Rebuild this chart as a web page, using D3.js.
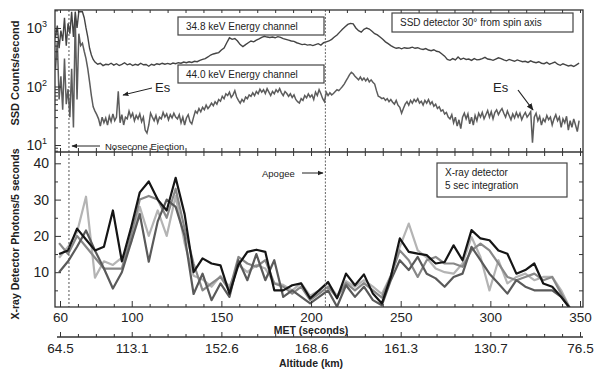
<!DOCTYPE html>
<html><head><meta charset="utf-8">
<script src="https://cdn.jsdelivr.net/npm/d3@7"></script>
<style>body{margin:0;background:#fff}svg{display:block}text{font-family:Arial,"Liberation Sans",sans-serif;fill:#222}</style>
</head><body><svg id="c" width="594" height="369"></svg>
<script>
// ---------- data ----------
const metTicks = [60,100,150,200,250,300,350];
const altitudeLabels = ["64.5","113.1","152.6","168.6","161.3","130.7","76.5"];
const ssdTicks = [10,100,1000];
const ssdExp = ["1","2","3"];
const xrayTicks = [10,20,30,40];
const noseconeMET = 65;
const apogeeMET = 208;

// SSD 34.8 keV channel [MET s, counts/s]
const ch348 = [[57.5,700],[58.5,1100],[59.5,450],[60.5,900],[61.5,600],[62.5,1500],[63.5,500],[64.5,1200],[65.5,800],[66.5,1900],[67.5,700],[68.5,1900],[69.5,1000],[70.5,1900],[71.5,1900],[72.5,1900],[73.5,1500],[74.5,1000],[75.5,700],[76.5,450],[77.5,345],[78.5,290],[79.5,262],
[81,240],[82.5,250],[84,228],[85.5,240],[87,235],[88.5,250],[90,232],[91.5,245],[93,228],[94.5,240],[96,255],[97.5,235],[99,245],[100.5,228],[102,240],[103.5,232],[105,250],[106.5,235],[108,238],[109.5,222],[111,240],[112.5,232],[114,245],[115.5,238],[117,250],[118.5,240],[120,248],[121.5,240],[123,252],[124.5,245],[126,255],[127.5,250],[129,262],[130.5,255],[132,265],[133.5,258],[135,270],[136.5,265],[138,280],[139.5,290],[141,300],[142.5,320],[144,345],[145.5,360],[147,370],[148.5,380],[150,420],[151.5,455],[153,560],[154.5,680],[156,640],[157.5,660],[159,600],[160.5,520],[162,480],[163.5,520],[165,560],[166.5,600],[168,580],[169.5,620],[171,650],[172.5,690],[174,720],[175.5,700],[177,690],[178.5,700],[180,680],[181.5,710],[183,690],[184.5,660],[186,640],[187.5,620],[189,600],[190.5,590],[192,560],[193.5,540],[195,520],[196.5,530],[198,510],[199.5,520],[201,500],[202.5,520],[204,540],[205.5,510],[207,560],[208.5,580],[210,600],[211.5,640],[213,700],[214.5,760],[216,850],[217.5,950],[219,1050],[220.5,1150],[222,1200],[223.5,1180],[225,1000],[226.5,900],[228,850],[229.5,950],[231,1000],[232.5,960],[234,880],[235.5,800],[237,760],[238.5,700],[240,640],[241.5,580],[243,540],[244.5,500],[246,470],[247.5,450],[249,460],[250.5,440],[252,460],[253.5,450],[255,455],[256.5,470],[258,450],[259.5,460],[261,440],[262.5,430],[264,445],[265.5,420],[267,410],[268.5,425],[270,400],[271.5,390],[273,360],[274.5,330],[276,290],[277.5,280],[279,300],[280.5,285],[282,320],[283.5,290],[285,305],[286.5,290],[288,295],[289.5,280],[291,300],[292.5,285],[294,290],[295.5,300],[297,315],[298.5,295],[300,290],[301.5,280],[303,295],[304.5,310],[306,300],[307.5,285],[309,275],[310.5,290],[312,280],[313.5,270],[315,285],[316.5,275],[318,265],[319.5,270],[321,258],[322.5,275],[324,262],[325.5,255],[327,265],[328.5,250],[330,245],[331.5,258],[333,240],[334.5,250],[336,262],[337.5,240],[339,230],[340.5,245],[342,235],[343.5,225],[345,230],[346.5,220],[348,235],[349.5,250]];

// SSD 44.0 keV channel [MET s, counts/s]
const ch440 = [[57.5,200],[58.5,600],[59.5,60],[60.5,150],[61.5,40],[62.5,300],[63.5,50],[64.5,90],[65.5,30],[66.5,200],[67.5,20],[68.5,1500],[69.5,60],[70.5,800],[71.5,500],[72.5,550],[73.5,400],[74.5,300],[75.5,200],[76.5,120],[77.5,70],[78.5,45],[79.5,38],[80.5,33],[81.5,28],[82.5,21],[83.5,30],[84.5,24],[85.5,29],[86.5,22],[87.5,31],[88.5,25],[89.5,34],[90.5,26],[91.5,30],[92.5,83],[93.5,24],[94.5,33],[95.5,22],[96.5,30],[97.5,28],[98.5,38],[99.5,30],[100.5,35],[101.5,26],[102.5,32],[103.5,28],[104.5,34],[105.5,25],[106.5,30],[107.5,18],[108.5,16],[109.5,22],[110.5,35],[111.5,30],[112.5,26],[113.5,32],[114.5,24],[115.5,30],[116.5,28],[117.5,36],[118.5,30],[119.5,34],[120.5,27],[121.5,33],[122.5,29],[123.5,35],[124.5,30],[125.5,28],[126.5,33],[127.5,24],[128.5,30],[129.5,22],[130.5,29],[131.5,33],[132.5,25],[133.5,23],[134.5,30],[135.5,38],[136.5,35],[137.5,42],[138.5,37],[139.5,44],[140.5,40],[141.5,48],[142.5,42],[143.5,46],[144.5,52],[145.5,47],[146.5,55],[147.5,50],[148.5,60],[149.5,56],[150.5,68],[151.5,62],[152.5,75],[153.5,70],[154.5,80],[155.5,65],[156.5,72],[157.5,85],[158.5,66],[159.5,58],[160.5,52],[161.5,60],[162.5,55],[163.5,66],[164.5,62],[165.5,72],[166.5,68],[167.5,78],[168.5,70],[169.5,82],[170.5,75],[171.5,90],[172.5,80],[173.5,88],[174.5,76],[175.5,92],[176.5,80],[177.5,70],[178.5,82],[179.5,75],[180.5,88],[181.5,80],[182.5,92],[183.5,78],[184.5,70],[185.5,82],[186.5,76],[187.5,68],[188.5,75],[189.5,65],[190.5,72],[191.5,60],[192.5,55],[193.5,52],[194.5,62],[195.5,58],[196.5,70],[197.5,64],[198.5,75],[199.5,66],[200.5,72],[201.5,60],[202.5,80],[203.5,70],[204.5,88],[205.5,75],[206.5,62],[207.5,55],[208.5,80],[209.5,70],[210.5,78],[211.5,72],[212.5,76],[213.5,82],[214.5,88],[215.5,85],[216.5,92],[217.5,100],[218.5,110],[219.5,125],[220.5,140],[221.5,160],[222.5,175],[223.5,165],[224.5,150],[225.5,140],[226.5,130],[227.5,145],[228.5,128],[229.5,140],[230.5,125],[231.5,138],[232.5,120],[233.5,130],[234.5,118],[235.5,110],[236.5,85],[237.5,68],[238.5,66],[239.5,62],[240.5,64],[241.5,58],[242.5,62],[243.5,55],[244.5,60],[245.5,54],[246.5,50],[247.5,58],[248.5,48],[249.5,44],[250.5,35],[251.5,42],[252.5,50],[253.5,55],[254.5,48],[255.5,58],[256.5,52],[257.5,60],[258.5,55],[259.5,62],[260.5,52],[261.5,56],[262.5,48],[263.5,58],[264.5,52],[265.5,60],[266.5,50],[267.5,55],[268.5,46],[269.5,50],[270.5,42],[271.5,45],[272.5,38],[273.5,40],[274.5,34],[275.5,36],[276.5,30],[277.5,28],[278.5,33],[279.5,24],[280.5,30],[281.5,21],[282.5,27],[283.5,19],[284.5,30],[285.5,35],[286.5,28],[287.5,34],[288.5,23],[289.5,30],[290.5,22],[291.5,32],[292.5,26],[293.5,35],[294.5,30],[295.5,36],[296.5,28],[297.5,33],[298.5,39],[299.5,30],[300.5,37],[301.5,28],[302.5,36],[303.5,40],[304.5,33],[305.5,38],[306.5,42],[307.5,35],[308.5,30],[309.5,38],[310.5,32],[311.5,27],[312.5,34],[313.5,29],[314.5,36],[315.5,30],[316.5,35],[317.5,27],[318.5,32],[319.5,36],[320.5,30],[321.5,33],[322.5,37],[323.5,11],[324.5,30],[325.5,35],[326.5,26],[327.5,31],[328.5,22],[329.5,28],[330.5,25],[331.5,32],[332.5,27],[333.5,30],[334.5,22],[335.5,28],[336.5,33],[337.5,26],[338.5,30],[339.5,20],[340.5,28],[341.5,24],[342.5,31],[343.5,18],[344.5,26],[345.5,20],[346.5,28],[347.5,22],[348.5,17],[349.5,26]];

// X-ray detector, 5 s bins
const binMET = [59.5,64.5,69.5,74.5,79.5,84.5,89.5,94.5,99.5,104.5,109.5,114.5,119.5,124.5,129.5,134.5,139.5,144.5,149.5,154.5,159.5,164.5,169.5,174.5,179.5,184.5,189.5,194.5,199.5,204.5,209.5,214.5,219.5,224.5,229.5,234.5,239.5,244.5,249.5,254.5,259.5,264.5,269.5,274.5,279.5,284.5,289.5,294.5,299.5,304.5,309.5,314.5,319.5,324.5,329.5,334.5,339.5,344.5];
const xrayBlack = [15,16,22,19,16,17,27,13,22,32, 35,30,27,36,26,10,13.8,12.4,11.9,4.1, 12,15.6,16.2,15.6,5,5,6.4,6.9,2.8,5, 7.3,2.8,9.6,6.4,9.4,4.1,1.4,8.7,19.3,15.6, 15.1,14.7,12.4,12.8,17.4,13.3,21.6,19.3,18.8,16, 15.1,9.6,10.6,12.4,6.9,6,3.2,0];
const xrayDark = [10,13,17,21.5,16,11,5.5,10,18,26, 12.9,24,30,28,20,4,9.6,2.3,6.9,3.2, 13.3,7.8,15,7.8,13.3,3.2,5,3.2,1.4,3.2, 5,0.5,6.4,3.2,6,2.3,0.9,7.8,13.3,10.6, 14.2,9.6,8.3,6,8.7,9.6,17,13.3,9.6,6.9, 4.1,7.8,6,5,5,5,3.2,0];
const xrayMid = [18,15,20,17,14,11,11,11,20,30, 31,30,25,33,22,12.4,5,6.9,8.7,5, 14.2,12.4,11.5,13.3,6.9,6,4.1,6,2.3,4.1, 6,3,7,5,7,5,3,9,16,13.3, 8.7,13.3,14.2,12.4,12.4,11.5,16,17.9,16,12.4, 8.7,7.8,8.7,9.6,7.8,8.7,4.1,0];
const xrayLight = [14,17,21,30.8,8.5,13,12,14,18,28, 20,27,20,31,18,9,8,6,9,6, 12,10,12,11,7,6.5,5,7,3.5,5, 7,3.5,7.5,6,7.8,6,4,9,17,23.4, 16,14,11,10,9.6,12.4,19.7,14.2,5,13.3, 6.9,8.7,9.6,7.8,8.7,8.7,5,0];

// ---------- drawing ----------
const svg = d3.select("#c");
const L = 55, R = 583, T = 10, MID = 152, B = 307;
const x = d3.scaleLinear().domain([60,350]).range([60,580]);
const yTop = d3.scaleLog().domain([7.6,2030]).range([MID,T]).clamp(true);
const yBot = d3.scaleLinear().domain([0,40]).range([308.5,163.3]);

const defs = svg.append("defs");
defs.append("clipPath").attr("id","cTop").append("rect").attr("x",L).attr("y",T).attr("width",R-L).attr("height",MID-T);
defs.append("clipPath").attr("id","cBot").append("rect").attr("x",L).attr("y",MID).attr("width",R-L).attr("height",B-MID);
defs.append("marker").attr("id","arr").attr("viewBox","0 0 10 10").attr("refX",9).attr("refY",5)
  .attr("markerWidth",6).attr("markerHeight",6).attr("orient","auto")
  .append("path").attr("d","M0,1L10,5L0,9Z").attr("fill","#222");

// top panel lines
const lineTop = d3.line().x(d=>x(d[0])).y(d=>yTop(d[1]));
const gTop = svg.append("g").attr("clip-path","url(#cTop)");
gTop.append("path").datum(ch440).attr("d",lineTop).attr("fill","none").attr("stroke","#5c5c5c").attr("stroke-width",1.5);
gTop.append("path").datum(ch348).attr("d",lineTop).attr("fill","none").attr("stroke","#444").attr("stroke-width",1.4);

// bottom panel lines
const gBot = svg.append("g").attr("clip-path","url(#cBot)");
const series = [[xrayLight,"#b4b4b4"],[xrayMid,"#888"],[xrayDark,"#5a5a5a"],[xrayBlack,"#151515"]];
series.forEach(([vals,col])=>{
  gBot.append("path").datum(vals.map((v,i)=>[binMET[i],v]))
    .attr("d",d3.line().x(d=>x(d[0])).y(d=>yBot(d[1])))
    .attr("fill","none").attr("stroke",col).attr("stroke-width",2.2).attr("stroke-linejoin","round");
});

// vertical markers
svg.append("line").attr("x1",x(noseconeMET)).attr("x2",x(noseconeMET)).attr("y1",T).attr("y2",B)
  .attr("stroke","#555").attr("stroke-width",1).attr("stroke-dasharray","2,2");
svg.append("line").attr("x1",x(apogeeMET)).attr("x2",x(apogeeMET)).attr("y1",T).attr("y2",B)
  .attr("stroke","#666").attr("stroke-width",1).attr("stroke-dasharray","2,1.5");

// frames
svg.append("rect").attr("x",L).attr("y",T).attr("width",R-L).attr("height",B-T).attr("fill","none").attr("stroke","#333").attr("stroke-width",1.3);
svg.append("line").attr("x1",L).attr("x2",R).attr("y1",MID).attr("y2",MID).attr("stroke","#333").attr("stroke-width",1.3);

function styleAxis(g){ g.select(".domain").remove(); g.selectAll("line").attr("stroke","#333"); g.selectAll("text").attr("fill","#222"); }

// top log axis ticks (inward)
const minorLog = [];
[1,10,100,1000].forEach(p=>{ for(let k=2;k<10;k++){ const v=p*k; if(v>7.6&&v<2030) minorLog.push(v);} });
svg.append("g").attr("transform",`translate(${L},0)`).call(d3.axisLeft(yTop).tickValues(minorLog).tickSize(-3).tickFormat("")).call(styleAxis);
svg.append("g").attr("transform",`translate(${L},0)`).call(d3.axisLeft(yTop).tickValues(ssdTicks).tickSize(-6).tickFormat("")).call(styleAxis);
const lab = svg.append("g");
ssdTicks.forEach((v,i)=>{
  const t = lab.append("text").attr("x",47).attr("y",yTop(v)+5).attr("text-anchor","end").attr("font-size",14);
  t.append("tspan").text("10");
  t.append("tspan").attr("font-size",9).attr("dy",-6).text(ssdExp[i]);
});

// bottom linear y axis
const minorLin = [5,15,25,35];
svg.append("g").attr("transform",`translate(${L},0)`).call(d3.axisLeft(yBot).tickValues(xrayTicks).tickSize(-6).tickPadding(6).tickFormat(d3.format("d"))).call(styleAxis).selectAll("text").attr("font-size",14);
svg.append("g").attr("transform",`translate(${L},0)`).call(d3.axisLeft(yBot).tickValues(minorLin).tickSize(-3).tickFormat("")).call(styleAxis);
svg.append("g").attr("transform",`translate(${R},0)`).call(d3.axisRight(yBot).tickValues(minorLin.concat(xrayTicks)).tickSize(-4).tickFormat("")).call(styleAxis);

// x axes
const minorMET = d3.range(70,350,10).filter(v=>!metTicks.includes(v));
svg.append("g").attr("transform",`translate(0,${B})`).call(d3.axisBottom(x).tickValues(metTicks).tickSize(-6).tickPadding(5).tickFormat(d3.format("d"))).call(styleAxis).selectAll("text").attr("font-size",13.5);
svg.append("g").attr("transform",`translate(0,${B})`).call(d3.axisBottom(x).tickValues(minorMET).tickSize(-3).tickFormat("")).call(styleAxis);
svg.append("g").attr("transform",`translate(0,${MID})`).call(d3.axisBottom(x).tickValues(metTicks.concat(minorMET)).tickSize(-4).tickFormat("")).call(styleAxis);
svg.append("g").attr("transform",`translate(0,${MID})`).call(d3.axisTop(x).tickValues(metTicks.concat(minorMET)).tickSize(-4).tickFormat("")).call(styleAxis);
svg.append("g").attr("transform",`translate(0,${T})`).call(d3.axisTop(x).tickValues(metTicks.concat(minorMET)).tickSize(-3).tickFormat("")).call(styleAxis);

// altitude axis
const altY = 337;
svg.append("line").attr("x1",L+2).attr("x2",R).attr("y1",altY).attr("y2",altY).attr("stroke","#333").attr("stroke-width",1.3);
svg.append("g").attr("transform",`translate(0,${altY})`).call(d3.axisBottom(x).tickValues(metTicks).tickSize(-5).tickPadding(6).tickFormat((d,i)=>altitudeLabels[i])).call(styleAxis).selectAll("text").attr("font-size",13.5);
svg.append("g").attr("transform",`translate(0,${altY})`).call(d3.axisBottom(x).tickValues(minorMET).tickSize(-3).tickFormat("")).call(styleAxis);

// axis titles
svg.append("text").attr("x",311).attr("y",334).attr("text-anchor","middle").attr("font-size",10.5).attr("font-weight","bold").text("MET (seconds)");
svg.append("text").attr("x",311).attr("y",367).attr("text-anchor","middle").attr("font-size",10.5).attr("font-weight","bold").text("Altitude (km)");
svg.append("text").attr("transform","translate(19,73) rotate(-90)").attr("text-anchor","middle").attr("font-size",11).attr("font-weight","bold").text("SSD Counts/second");
svg.append("text").attr("transform","translate(19,234) rotate(-90)").attr("text-anchor","middle").attr("font-size",10.5).attr("font-weight","bold").text("X-ray Detector Photons/5 seconds");

// legend boxes
function box(x0,y0,w,h,lines){
  svg.append("rect").attr("x",x0).attr("y",y0).attr("width",w).attr("height",h).attr("fill","#fff").attr("stroke","#444").attr("stroke-width",1.2);
  lines.forEach((s,i)=>svg.append("text").attr("x",x0+8).attr("y",y0+13+i*13).attr("font-size",10).text(s));
}
box(178,17,146,18,["34.8 keV Energy channel"]);
box(178,65,146,18,["44.0 keV Energy channel"]);
box(392,13,181,19,["SSD detector 30° from spin axis"]);
box(437,163,130,34,["X-ray detector","5 sec integration"]);

// annotations
svg.append("text").attr("x",155).attr("y",92).attr("font-size",13).text("Es");
svg.append("line").attr("x1",152).attr("y1",88).attr("x2",123).attr("y2",95).attr("stroke","#222").attr("stroke-width",1).attr("marker-end","url(#arr)");
svg.append("text").attr("x",493).attr("y",92).attr("font-size",13).text("Es");
svg.append("line").attr("x1",518).attr("y1",90).attr("x2",533).attr("y2",110).attr("stroke","#222").attr("stroke-width",1.2).attr("marker-end","url(#arr)");
svg.append("text").attr("x",105).attr("y",150).attr("font-size",9.5).text("Nosecone Ejection");
svg.append("line").attr("x1",100).attr("y1",146).attr("x2",72).attr("y2",146).attr("stroke","#222").attr("stroke-width",1).attr("marker-end","url(#arr)");
svg.append("text").attr("x",262).attr("y",177).attr("font-size",9.5).text("Apogee");
svg.append("line").attr("x1",302).attr("y1",173).attr("x2",323).attr("y2",173).attr("stroke","#222").attr("stroke-width",1).attr("marker-end","url(#arr)");
</script></body></html>
